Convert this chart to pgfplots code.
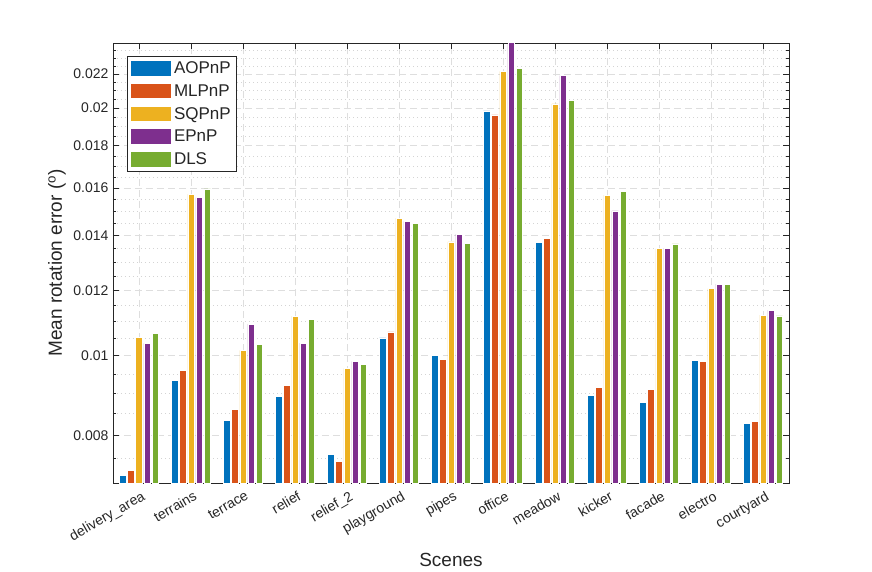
\documentclass[border=0pt]{standalone}
\usepackage{pgfplots}
\pgfplotsset{compat=1.18}
\usepackage{fontspec}
\setmainfont{Liberation Sans}
\definecolor{c1}{rgb}{0,0.447,0.741}
\definecolor{c2}{rgb}{0.85,0.325,0.098}
\definecolor{c3}{rgb}{0.929,0.694,0.125}
\definecolor{c4}{rgb}{0.494,0.184,0.556}
\definecolor{c5}{rgb}{0.466,0.674,0.188}
\definecolor{axc}{rgb}{0.15,0.15,0.15}
\definecolor{gridc}{rgb}{0.87,0.87,0.87}
\begin{document}
\begin{tikzpicture}
\begin{axis}[
  scale only axis, width=676pt, height=440pt,
  ymode=log, ymin=0.007, ymax=0.024,
  log origin y=infty,
  xmin=-0.5, xmax=12.5,
  ybar=1.7pt, bar width=6.5pt,
  xtick={0,...,12},
  xticklabels={delivery\_area,terrains,terrace,relief,relief\_2,playground,pipes,office,meadow,kicker,facade,electro,courtyard},
  ytick={0.008,0.01,0.012,0.014,0.016,0.018,0.02,0.022},
  yticklabels={0.008,0.01,0.012,0.014,0.016,0.018,0.02,0.022},
  minor ytick={0.0075,0.0085,0.009,0.0095,0.0105,0.011,0.0115,0.0125,0.013,0.0135,0.0145,0.015,0.0155,0.0165,0.017,0.0175,0.0185,0.019,0.0195,0.0205,0.021,0.0215,0.0225,0.023,0.0235},
  log ticks with fixed point,
  tick align=inside,
  major tick length=6pt, minor tick length=3.5pt,
  tick style={color=axc, line width=0.5pt},
  axis line style={color=axc, line width=0.6pt},
  ymajorgrids, xmajorgrids, yminorgrids,
  major grid style={color=gridc, dash pattern=on 7pt off 4pt, line width=0.6pt},
  minor grid style={color=gridc!90!gray, dash pattern=on 1pt off 3pt, line width=0.6pt},
  ticklabel style={font=\fontsize{14}{16}\selectfont, text=axc},
  xticklabel style={rotate=30, anchor=north east, inner sep=2pt, yshift=-5pt},
  yticklabel style={xshift=-1pt},
  xlabel={Scenes}, ylabel={Mean rotation error (\textsuperscript{o})},
  label style={font=\fontsize{19}{22}\selectfont, text=axc},
  xlabel style={at={([yshift=-77pt]axis description cs:0.5,0)}, anchor=center},
  ylabel style={at={([xshift=-56pt]axis description cs:0,0.5)}, anchor=center},
  every axis plot post/.append style={draw=white, line width=0.5pt,
    legend image code/.code={\draw[##1] (0pt,-7.5pt) rectangle (41pt,8pt);}},
  legend cell align=left,
  legend style={at={(0.0203,0.971)}, anchor=north west, draw=axc, line width=0.6pt, fill=white,
    font=\fontsize{17}{19}\selectfont, text=axc, row sep=4.5pt, inner sep=3pt,
    nodes={inner sep=2.5pt}},
]
\addplot[fill=c1] coordinates {(0,0.00715) (1,0.00933) (2,0.00834) (3,0.00893) (4,0.00759) (5,0.01051) (6,0.0100) (7,0.01985) (8,0.01373) (9,0.00895) (10,0.00878) (11,0.00986) (12,0.00827)};
\addplot[fill=c2] coordinates {(0,0.00725) (1,0.00959) (2,0.00860) (3,0.00921) (4,0.00743) (5,0.01069) (6,0.00989) (7,0.01963) (8,0.01390) (9,0.00915) (10,0.00909) (11,0.00984) (12,0.00832)};
\addplot[fill=c3] coordinates {(0,0.01053) (1,0.01572) (2,0.01015) (3,0.01117) (4,0.00965) (5,0.01470) (6,0.01375) (7,0.02216) (8,0.02024) (9,0.01568) (10,0.01349) (11,0.01206) (12,0.01120)};
\addplot[fill=c4] coordinates {(0,0.01035) (1,0.01557) (2,0.01092) (3,0.01036) (4,0.00984) (5,0.01456) (6,0.01405) (7,0.02450) (8,0.02190) (9,0.01500) (10,0.01351) (11,0.01222) (12,0.01136)};
\addplot[fill=c5] coordinates {(0,0.01064) (1,0.01595) (2,0.01032) (3,0.01108) (4,0.00975) (5,0.01448) (6,0.01370) (7,0.02235) (8,0.02043) (9,0.01584) (10,0.01367) (11,0.01220) (12,0.01118)};
\legend{AOPnP,MLPnP,SQPnP,EPnP,DLS}
\end{axis}
\pgfresetboundingbox
\path[use as bounding box] ([shift={(-113pt,-89pt)}]current axis.south west) rectangle ([shift={(83pt,43pt)}]current axis.north east);
\end{tikzpicture}
\end{document}
